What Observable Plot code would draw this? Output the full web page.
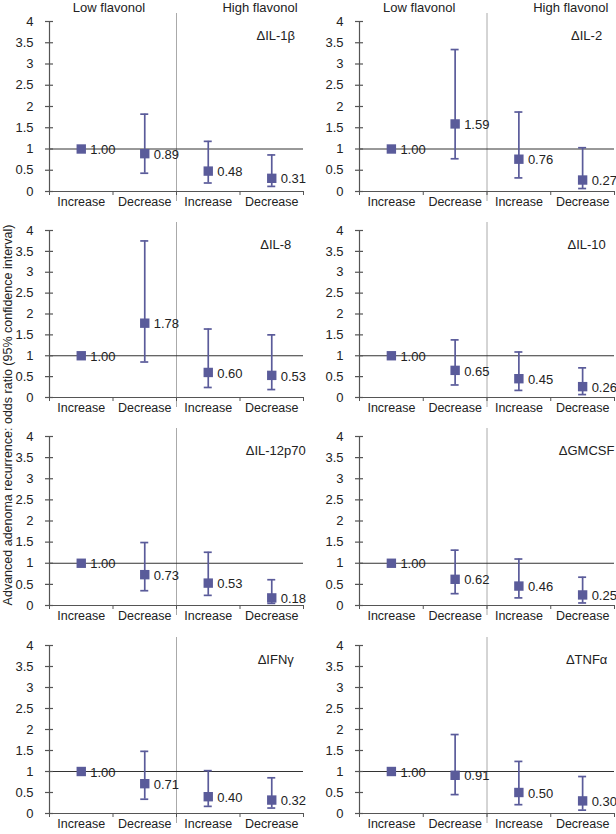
<!DOCTYPE html>
<html><head><meta charset="utf-8">
<script src="https://cdn.jsdelivr.net/npm/d3@7"></script>
<script src="https://cdn.jsdelivr.net/npm/@observablehq/plot@0.6"></script>
<style>
body{margin:0;background:#fff;}
#chart{position:relative;width:616px;height:834px;font-family:"Liberation Sans",Arial,sans-serif;overflow:hidden;}
#chart svg{position:absolute;}
#ylabel{position:absolute;left:8px;top:415px;transform:translate(-50%,-50%) rotate(-90deg);white-space:nowrap;font-size:12.5px;color:#222;}
</style></head><body>
<div id="chart"><div id="ylabel">Advanced adenoma recurrence: odds ratio (95% confidence interval)</div></div>
<script>
const cytokines = ["ΔIL-1β", "ΔIL-2", "ΔIL-8", "ΔIL-10", "ΔIL-12p70", "ΔGMCSF", "ΔIFNγ", "ΔTNFα"];
const groups = ["Low flavonol", "High flavonol"];
const categories = ["Increase", "Decrease", "Increase", "Decrease"];
const oddsRatio = [
  [1.00, 0.89, 0.48, 0.31],
  [1.00, 1.59, 0.76, 0.27],
  [1.00, 1.78, 0.60, 0.53],
  [1.00, 0.65, 0.45, 0.26],
  [1.00, 0.73, 0.53, 0.18],
  [1.00, 0.62, 0.46, 0.25],
  [1.00, 0.71, 0.40, 0.32],
  [1.00, 0.91, 0.50, 0.30]
];
const ciLow = [
  [null, 0.43, 0.20, 0.12],
  [null, 0.77, 0.32, 0.07],
  [null, 0.85, 0.24, 0.19],
  [null, 0.30, 0.17, 0.07],
  [null, 0.35, 0.24, 0.05],
  [null, 0.28, 0.18, 0.06],
  [null, 0.34, 0.17, 0.13],
  [null, 0.45, 0.21, 0.08]
];
const ciHigh = [
  [null, 1.82, 1.18, 0.86],
  [null, 3.34, 1.87, 1.03],
  [null, 3.75, 1.64, 1.50],
  [null, 1.38, 1.09, 0.71],
  [null, 1.49, 1.26, 0.61],
  [null, 1.31, 1.10, 0.67],
  [null, 1.48, 1.02, 0.85],
  [null, 1.88, 1.24, 0.88]
];
const yTicks = [0, 0.5, 1, 1.5, 2, 2.5, 3, 3.5, 4];
const bandEdges = [0, 1, 2, 3, 4];
const bandCenters = [0.5, 1.5, 2.5, 3.5];
const groupCenters = [1, 3];

const markColor = "#5a5b9a";
const axisColor = "#555";
const font = "'Liberation Sans', Arial, sans-serif";

// layout
const rowTops = [1, 210, 416, 625];
const rowPlotHeights = [170, 167, 169, 168];
const cols = [
  {left: 0, width: 306, marginLeft: 49, marginRight: 3},
  {left: 306, width: 310, marginLeft: 53, marginRight: 2}
];

const container = document.getElementById("chart");

cytokines.forEach((name, k) => {
  const row = Math.floor(k / 2), col = k % 2;
  const c = cols[col];
  const data = categories.map((cat, i) => ({
    pos: bandCenters[i],
    cat,
    or: oddsRatio[k][i],
    lo: ciLow[k][i],
    hi: ciHigh[k][i]
  }));
  const ci = data.filter(d => d.lo != null);
  const marks = [
    // divider between low and high flavonol
    Plot.ruleX([groupCenters[0] + 1], {stroke: "#aaa", strokeWidth: 1, insetTop: -8, insetBottom: -10}),
    // reference line at OR = 1
    Plot.ruleY([1], {stroke: "#333", strokeWidth: 1}),
    // axes lines
    Plot.ruleX([0], {y1: 0, y2: 4, stroke: axisColor, strokeWidth: 1.2}),
    Plot.ruleY([0], {stroke: axisColor, strokeWidth: 1.2}),
    Plot.ruleY(yTicks, {x1: 0, x2: 0, insetLeft: -4, insetRight: -4, stroke: axisColor, strokeWidth: 1.2}),
    Plot.axisY({ticks: yTicks, tickSize: 0, tickPadding: 16, tickFormat: d => String(d), fontSize: 13, fill: "#222", label: null}),
    Plot.axisX({ticks: bandEdges, tickSize: 4, tickFormat: () => "", stroke: axisColor, label: null}),
    Plot.axisX({ticks: bandCenters, tickSize: 0, tickPadding: 6, tickFormat: (d, i) => categories[i], fontSize: 12.5, fill: "#222", label: null}),
    // error bars
    Plot.ruleX(ci, {x: "pos", y1: "lo", y2: "hi", stroke: markColor, strokeWidth: 1.7}),
    Plot.ruleY(ci, {y: "lo", x1: "pos", x2: "pos", insetLeft: -4, insetRight: -4, stroke: markColor, strokeWidth: 1.7}),
    Plot.ruleY(ci, {y: "hi", x1: "pos", x2: "pos", insetLeft: -4, insetRight: -4, stroke: markColor, strokeWidth: 1.7}),
    // squares
    Plot.dot(data, {x: "pos", y: "or", symbol: "square", r: 5.3, fill: markColor}),
    // value labels
    Plot.text(data, {x: "pos", y: "or", text: d => d.or.toFixed(2), textAnchor: "start", dx: 9, dy: 1, fontSize: 13, fill: "#222"}),
    // cytokine label
    Plot.text([name], {x: bandCenters[3], frameAnchor: "top", dy: 9, dx: 4, text: d => d, fontSize: 13, fill: "#222"})
  ];
  if (row === 0) {
    marks.push(Plot.text([groups[0]], {x: groupCenters[0], y: 4, dy: -14, dx: -4, text: d => d, fontSize: 13, fill: "#222"}));
    marks.push(Plot.text([groups[1]], {x: groupCenters[1], y: 4, dy: -14, dx: 20, text: d => d, fontSize: 13, fill: "#222"}));
  }
  const plotH = rowPlotHeights[row];
  const svg = Plot.plot({
    width: c.width,
    height: 20 + plotH + 20,
    marginLeft: c.marginLeft,
    marginRight: c.marginRight,
    marginTop: 20,
    marginBottom: 20,
    x: {domain: [0, 4], axis: null},
    y: {domain: [0, 4], axis: null},
    style: {fontFamily: font, fontSize: "12px", background: "transparent", color: "#222", overflow: "visible"},
    marks
  });
  svg.style.left = c.left + "px";
  svg.style.top = rowTops[row] + "px";
  container.appendChild(svg);
});
</script>
</body></html>
